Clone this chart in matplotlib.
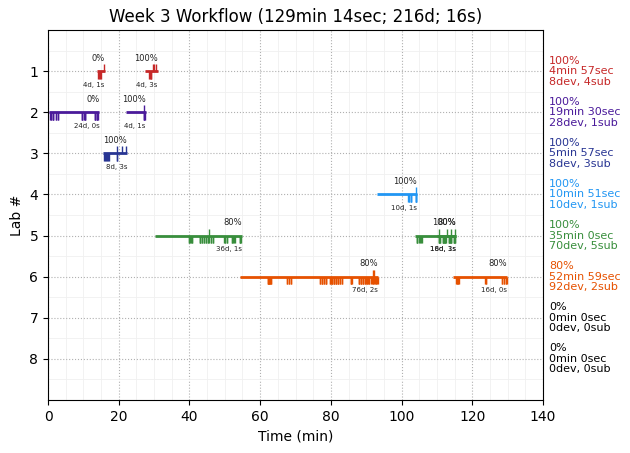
import matplotlib
matplotlib.use("Agg")
import matplotlib.pyplot as plt
from matplotlib.ticker import MultipleLocator

# ---------------- data ----------------
lab_colors = ["#c62828", "#4a1a9a", "#283593", "#2196f3", "#388e3c", "#e65100", "#000000", "#000000"]
lab_ids = [1, 2, 3, 4, 5, 6, 7, 8]
lab_pct = ["100%", "100%", "100%", "100%", "100%", "80%", "0%", "0%"]
lab_time = ["4min 57sec", "19min 30sec", "5min 57sec", "10min 51sec", "35min 0sec", "52min 59sec", "0min 0sec", "0min 0sec"]
lab_dev = [8, 28, 8, 10, 70, 92, 0, 0]
lab_sub = [4, 1, 3, 1, 5, 2, 0, 0]

session_lab = [1, 1, 2, 2, 3, 4, 5, 5, 5, 6, 6]
session_start = [13.9, 27.3, 0.3, 22.0, 15.6, 93.0, 30.3, 103.8, 110.0, 54.3, 114.6]
session_end = [16.0, 31.0, 14.5, 27.6, 22.4, 104.4, 55.0, 115.3, 115.3, 93.4, 129.9]
session_pct = ["0%", "100%", "0%", "100%", "100%", "100%", "80%", "100%", "80%", "80%", "80%"]

session_devs = [
    [14.1, 14.3, 14.8, 15.0],
    [28.6, 28.8, 29.0, 29.1],
    [0.6, 0.8, 0.85, 1.4, 1.45, 1.5, 2.2, 2.25, 2.8, 2.85,
     9.6, 9.65, 9.7, 10.3, 10.35, 10.4, 10.45,
     13.2, 13.25, 13.3, 13.85, 13.9, 13.95, 14.0],
    [27.1, 27.2, 27.2, 27.3],
    [15.9, 16.0, 16.5, 16.6, 17.1, 17.2, 19.4, 19.5],
    [101.9, 102.0, 102.1, 102.6, 102.7, 102.8, 104.0, 104.1, 104.1, 104.2],
    [39.9, 40.0, 40.1, 40.5, 40.6, 40.7,
     42.9, 43.0, 43.1, 43.5, 43.6, 44.1, 44.2, 44.7, 44.8, 45.2, 45.3, 45.4, 46.0, 46.1, 46.6, 46.7,
     49.9, 50.0, 50.1, 50.5, 50.6,
     52.0, 52.1, 52.2, 52.7, 52.8,
     54.2, 54.3, 54.4, 54.5],
    [104.3, 104.4, 104.5, 105.0, 105.1, 105.6, 105.7,
     110.7, 110.8, 111.8, 111.9, 112.4, 112.5, 113.5, 113.6, 114.1, 114.9, 115.0],
    [110.6, 110.7, 110.8, 111.7, 111.8, 111.9, 112.3, 112.4,
     113.4, 113.5, 113.6, 114.0, 114.1, 114.8, 114.9, 115.0],
    [62.1, 62.2, 62.3, 62.4, 62.5, 62.6, 62.8, 62.9, 63.0, 63.2,
     67.6, 67.7, 68.1, 68.2, 68.7, 68.8,
     76.8, 76.9, 77.4, 77.45, 77.5, 78.0, 78.1, 78.6, 78.65, 78.7,
     79.8, 79.85, 79.9, 80.3, 80.35, 80.4, 80.9, 80.95, 81.0, 81.4, 81.45, 81.5,
     82.0, 82.05, 82.1, 82.6, 82.7, 83.1, 83.2,
     85.6, 85.7, 85.8, 85.9,
     87.9, 87.95, 88.0, 88.5, 88.55, 88.6, 89.1, 89.15, 89.2, 89.7, 89.75, 89.8,
     90.3, 90.35, 90.4, 90.8, 90.9,
     91.4, 91.5, 91.9, 92.0, 92.1, 92.6, 92.7, 92.9, 93.1, 93.2],
    [115.5, 115.6, 115.7, 116.0, 116.1, 116.2, 123.7, 123.8, 123.9,
     128.3, 128.4, 128.9, 129.0, 129.5, 129.6, 129.7],
]
session_subs = [
    [15.8],
    [29.7, 29.9, 30.5],
    [],
    [27.2],
    [19.6, 20.8, 22.1],
    [104.1],
    [45.6],
    [110.7, 112.9, 115.1],
    [114.1],
    [92.0, 92.1],
    [],
]

x_ticks = [0, 20, 40, 60, 80, 100, 120, 140]
title = "Week 3 Workflow (129min 14sec; 216d; 16s)"

# ---------------- plot ----------------
fig = plt.figure(figsize=(6.3, 4.53), dpi=100)
ax = fig.add_axes([48 / 630, 1 - 400 / 453, 495 / 630, 370 / 453])

for i, lab in enumerate(session_lab):
    c = lab_colors[lab - 1]
    s, e = session_start[i], session_end[i]
    ax.plot([s, e], [lab, lab], color=c, lw=2.0, solid_capstyle="butt", zorder=3)
    devs = session_devs[i]
    subs = session_subs[i]
    if devs:
        ax.vlines(devs, lab, lab + 0.18, color=c, lw=1.0, zorder=3)
    if subs:
        ax.vlines(subs, lab - 0.17, lab, color=c, lw=1.0, zorder=3)
    ax.text(e, lab - 0.2, session_pct[i], ha="right", va="bottom", fontsize=6, color="#222222")
    ax.text(e, lab + 0.26, f"{len(devs)}d, {len(subs)}s", ha="right", va="top", fontsize=5, color="#222222")

for j, lab in enumerate(lab_ids):
    ax.text(1.012, lab, f"{lab_pct[j]}\n{lab_time[j]}\n{lab_dev[j]}dev, {lab_sub[j]}sub",
            transform=ax.get_yaxis_transform(), ha="left", va="center",
            fontsize=8, color=lab_colors[j], linespacing=1.05)

ax.set_xlim(0, 140)
ax.set_ylim(9, 0)
ax.set_xticks(x_ticks)
ax.set_yticks(lab_ids)
ax.xaxis.set_minor_locator(MultipleLocator(5))
ax.yaxis.set_minor_locator(MultipleLocator(0.5))
ax.tick_params(which="minor", length=0)
ax.grid(True, which="major", linestyle=":", color="#b0b0b0", lw=0.8)
ax.grid(True, which="minor", linestyle="-", color="#f0f0f0", lw=0.6)
ax.set_axisbelow(True)
ax.set_xlabel("Time (min)")
ax.set_ylabel("Lab #")
ax.set_title(title, fontsize=12)

fig.savefig("out.png", dpi=100)
